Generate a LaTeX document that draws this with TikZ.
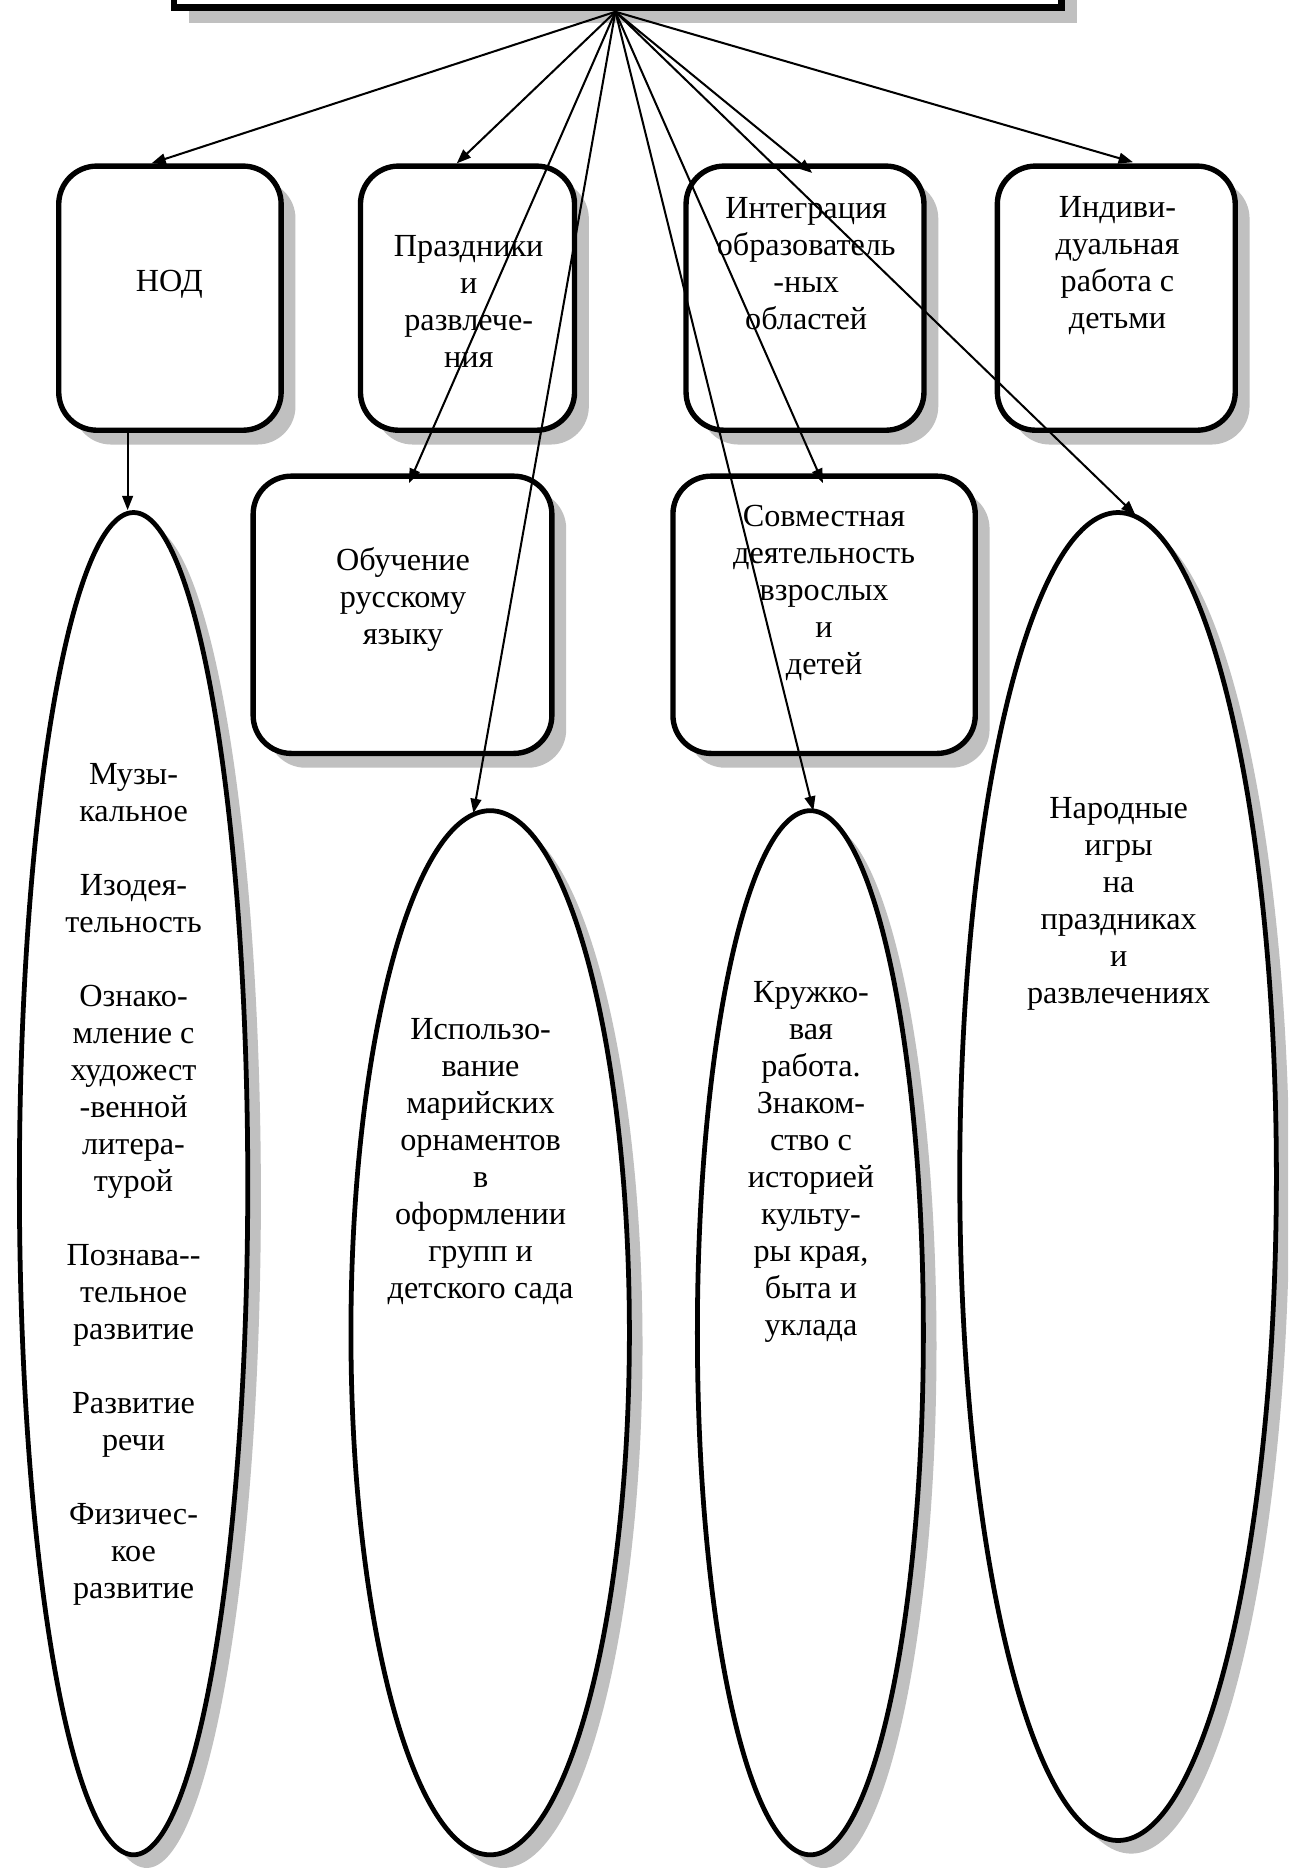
\documentclass[tikz,border=0pt]{standalone}
\usepackage{fontspec}
\setmainfont{Liberation Serif}
\usetikzlibrary{shapes.geometric,arrows.meta,shadows}
\definecolor{shadowgray}{HTML}{C0C0C0}
\tikzset{
  shd/.style={drop shadow={shadow xshift=#1pt,shadow yshift=-#1pt,fill=shadowgray,opacity=1}},
  boxst/.style={draw, line width=4.5pt, rounded corners=32pt, fill=white, inner sep=0pt, shd=12},
  topst/.style={draw, line width=5.5pt, fill=white, inner sep=0pt, shd=13},
  ellst/.style={draw, ellipse, line width=4pt, fill=white, inner sep=0pt, shd=11},
  arr/.style={-{Triangle[length=12pt,width=9pt]}, line width=1.7pt},
  txt/.style={align=center, font=\fontsize{27pt}{31pt}\selectfont, inner sep=0pt}
}
\begin{document}
\begin{tikzpicture}[x=1pt,y=-1pt]
\useasboundingbox (0,0) rectangle (1080,1568);
\clip (0,0) rectangle (1080,1568);
\fill[white] (0,0) rectangle (1080,1568);

% top box
\node[topst, minimum width=744.5pt, minimum height=66pt] (top) at (518,-26.9) {};
\coordinate (hub) at ([xshift=-2pt,yshift=-1pt]top.south);

% boxes
\node[boxst, minimum width=186.5pt, minimum height=221.5pt] (nod) at (142.5,250) {};
\node[boxst, minimum width=179.5pt, minimum height=221.5pt] (pra) at (392,250) {};
\node[boxst, minimum width=199.5pt, minimum height=221.5pt] (int) at (675,250) {};
\node[boxst, minimum width=199.5pt, minimum height=221.5pt] (ind) at (936,250) {};
\node[boxst, minimum width=250.5pt, minimum height=232.5pt] (obu) at (337.5,515.5) {};
\node[boxst, minimum width=253.5pt, minimum height=232.5pt] (sov) at (691,515.5) {};

% ellipses
\node[ellst, minimum width=191.5pt, minimum height=1125.5pt] (e1) at (112,992.5) {};
\node[ellst, minimum width=233.5pt, minimum height=875.5pt] (e2) at (411,1117.5) {};
\node[ellst, minimum width=189.5pt, minimum height=875.5pt] (e3) at (679.5,1117.5) {};
\node[ellst, minimum width=265.5pt, minimum height=1113.5pt] (e4) at (937.5,986.5) {};

% texts
\node[txt] (tnod) at (142,238) {НОД};
\node[txt] (tpra) at (393,253) {Праздники\\и\\развлече-\\ния};
\node[txt] (tint) at (676,221) {Интеграция\\образователь\\-ных\\областей};
\node[txt] (tind) at (937,223) {Индиви-\\дуальная\\работа с\\детьми};
\node[txt] (tobu) at (338,503) {Обучение\\русскому\\языку};
\node[txt] (tsov) at (691,497) {Совместная\\деятельность\\взрослых\\и\\детей};
\node[txt] (te1) at (112,993) {Музы-\\кальное\\[31pt]Изодея-\\тельность\\[31pt]Ознако-\\мление с\\художест\\-венной\\литера-\\турой\\[31pt]Познава-{}-\\тельное\\развитие\\[31pt]Развитие\\речи\\[31pt]Физичес-\\кое\\развитие};
\node[txt] (te2) at (403,974) {Использо-\\вание\\марийских\\орнаментов\\в\\оформлении\\групп и\\детского сада};
\node[txt] (te3) at (680,974) {Кружко-\\вая\\работа.\\Знаком-\\ство с\\историей\\культу-\\ры края,\\быта и\\уклада};
\node[txt] (te4) at (938,758) {Народные\\игры\\на\\праздниках\\и\\развлечениях};

% connectors
\draw[arr] (hub) -- ([xshift=-15.5pt]nod.north);
\draw[arr] (hub) -- ([xshift=-9pt]pra.north);
\draw[arr] (hub) -- ([xshift=5.5pt,yshift=-8pt]obu.north);
\draw[arr] (hub) -- ([xshift=-14pt,yshift=-4pt]e2.north);
\draw[arr] (hub) -- ([xshift=2.5pt,yshift=-2pt]e3.north);
\draw[arr] (hub) -- ([xshift=-1pt,yshift=-8pt]sov.north);
\draw[arr] (hub) -- ([xshift=6pt,yshift=-8pt]int.north);
\draw[arr] (hub) -- ([xshift=14.5pt,yshift=-4pt]e4.north);
\draw[arr] (hub) -- ([xshift=14pt,yshift=1pt]ind.north);
\draw[arr] ([xshift=-35.5pt]nod.south) -- ([xshift=-5pt]e1.north);
\end{tikzpicture}
\end{document}
